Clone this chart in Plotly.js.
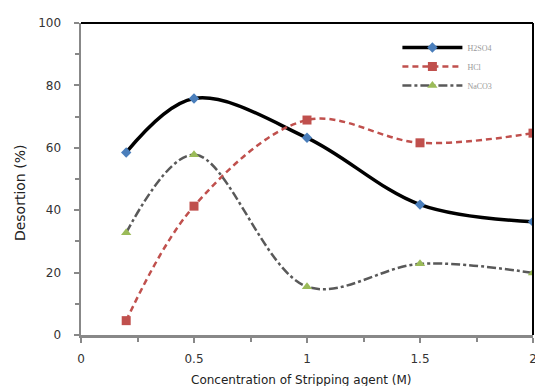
<!DOCTYPE html>
<html><head><meta charset="utf-8">
<script src="https://cdn.plot.ly/plotly-3.0.1.min.js"></script>
<style>body{margin:0;padding:0;background:#fff}#chart{width:535px;height:386px}</style>
</head><body><div id="chart"></div>
<script>
const conc = [0.2, 0.5, 1.0, 1.5, 2.0];
const h2so4 = [58.5, 75.8, 63.2, 41.8, 36.3];
const hcl = [4.6, 41.3, 68.9, 61.6, 64.7];
const naco3 = [32.8, 57.8, 15.5, 22.8, 19.9];
const seriesNames = ["H2SO4", "HCl", "NaCO3"];
const yTicks = [0, 20, 40, 60, 80, 100];
const xTicks = [0, 0.5, 1, 1.5, 2];
const xTitle = 'Concentration of Stripping agent (M)';
const yTitle = 'Desortion (%)';

const traces = [
  {x: conc, y: h2so4, name: seriesNames[0], mode: 'lines+markers',
   line: {shape: 'spline', smoothing: 1, color: '#000000', width: 3.5},
   marker: {symbol: 'diamond', color: '#4A7EBB', size: 8}},
  {x: conc, y: hcl, name: seriesNames[1], mode: 'lines+markers',
   line: {shape: 'spline', smoothing: 1, color: '#C0504D', width: 2.5, dash: '6px,4px'},
   marker: {symbol: 'square', color: '#C0504D', size: 9}},
  {x: conc, y: naco3, name: seriesNames[2], mode: 'lines+markers',
   line: {shape: 'spline', smoothing: 1, color: '#595959', width: 2.5, dash: 'dashdot'},
   marker: {symbol: 'triangle-up', color: '#9BBB59', size: 9}}
];

const tickFont = {family: 'DejaVu Sans, sans-serif', size: 12, color: '#333'};
const layout = {
  width: 535, height: 386,
  margin: {l: 81, r: 2, t: 23, b: 51},
  paper_bgcolor: '#fff', plot_bgcolor: '#fff',
  font: {family: 'DejaVu Sans, sans-serif', color: '#333'},
  showlegend: true,
  legend: {x: 0.7, y: 0.968, xanchor: 'left', yanchor: 'top', bgcolor: 'rgba(0,0,0,0)',
           font: {size: 8, color: '#999', family: 'Liberation Serif, serif'},
           itemwidth: 60, tracegroupgap: 0},
  xaxis: {range: [0, 2], tickvals: xTicks, ticktext: xTicks.map(String), ticks: 'outside', ticklen: 5,
          tickcolor: '#888', tickwidth: 2, showgrid: false, zeroline: false,
          showline: true, linecolor: '#888', linewidth: 2.5,
          ticklabeloverflow: 'allow', ticklabelstandoff: 6,
          minor: {dtick: 0.25, ticks: 'outside', ticklen: 4, tickcolor: '#888', tickwidth: 2},
          tickfont: tickFont},
  yaxis: {range: [0, 100], tickvals: yTicks, ticks: 'outside', ticklen: 5,
          tickcolor: '#888', tickwidth: 2, showgrid: false, zeroline: false,
          showline: true, linecolor: '#888', linewidth: 2.5,
          ticklabeloverflow: 'allow', ticklabelstandoff: 10,
          minor: {dtick: 10, ticks: 'outside', ticklen: 4, tickcolor: '#888', tickwidth: 2},
          tickfont: tickFont},
  annotations: [
    {text: xTitle, xref: 'paper', yref: 'paper', x: 0.487, y: -0.144, xanchor: 'center', yanchor: 'middle',
     showarrow: false, font: {family: 'DejaVu Sans, sans-serif', size: 12, color: '#222'}},
    {text: yTitle, xref: 'paper', yref: 'paper', x: -0.135, y: 0.458, xanchor: 'center', yanchor: 'middle',
     textangle: -90, showarrow: false, font: {family: 'DejaVu Sans, sans-serif', size: 14, color: '#222'}}
  ],
  shapes: [
    {type: 'line', xref: 'paper', yref: 'paper', x0: 0, x1: 1, y0: 1, y1: 1, line: {color: '#000', width: 2}},
    {type: 'line', xref: 'paper', yref: 'paper', x0: 1, x1: 1, y0: 0, y1: 1, line: {color: '#000', width: 2}}
  ]
};
Plotly.newPlot('chart', traces, layout, {displayModeBar: false, staticPlot: true});
</script></body></html>
